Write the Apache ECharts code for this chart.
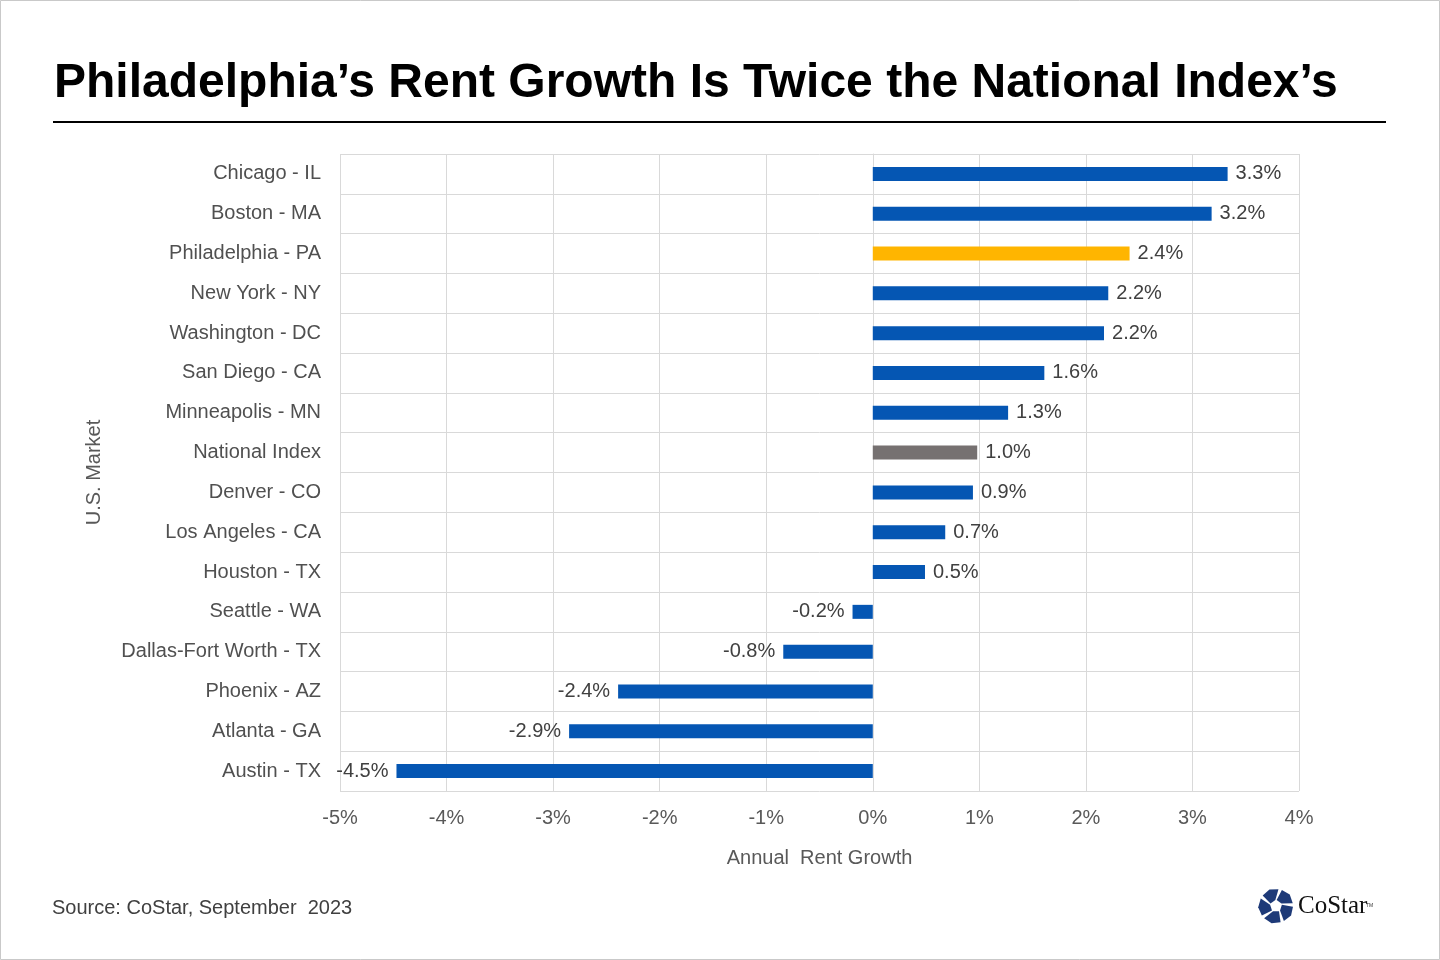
<!DOCTYPE html>
<html>
<head>
<meta charset="utf-8">
<title>Philadelphia Rent Growth</title>
<script src="https://cdn.jsdelivr.net/npm/echarts@6/dist/echarts.min.js"></script>
<style>
  html, body { margin: 0; padding: 0; background: #fff; }
  #chart { width: 1440px; height: 960px; }
</style>
</head>
<body>
<div id="chart"></div>
<script>
// markets, top to bottom
var markets = [
  'Chicago - IL', 'Boston - MA', 'Philadelphia - PA', 'New York - NY',
  'Washington - DC', 'San Diego - CA', 'Minneapolis - MN', 'National Index',
  'Denver - CO', 'Los Angeles - CA', 'Houston - TX', 'Seattle - WA',
  'Dallas-Fort Worth - TX', 'Phoenix - AZ', 'Atlanta - GA', 'Austin - TX'
];
// annual rent growth, percent
var growth = [3.33, 3.18, 2.41, 2.21, 2.17, 1.61, 1.27, 0.98, 0.94, 0.68, 0.49, -0.19, -0.84, -2.39, -2.85, -4.47];
var xTicks = { min: -5, max: 4, step: 1 };

var BLUE = '#0556B3';
var GOLD = '#FFB500';
var GREY = '#767171';
var FONT = '"Liberation Sans", Arial, sans-serif';

var chartDom = document.getElementById('chart');
var myChart = echarts.init(chartDom);

var barData = growth.map(function (v, i) {
  var color = BLUE;
  if (markets[i] === 'Philadelphia - PA') color = GOLD;
  if (markets[i] === 'National Index') color = GREY;
  return {
    value: v,
    itemStyle: { color: color },
    label: { position: v < 0 ? 'left' : 'right' }
  };
});

// little CoStar mark: five pieces around a centre
function logoPieces(cx, cy) {
  var out = [];
  var rO = 17, rI = 6;
  for (var k = 0; k < 5; k++) {
    var a0 = (-90 + k * 72 + 6) * Math.PI / 180;
    var a1 = (-90 + (k + 1) * 72 - 6) * Math.PI / 180;
    var am = (a0 + a1) / 2;
    var pts = [
      [cx + rI * Math.cos(a0), cy + rI * Math.sin(a0)],
      [cx + rO * Math.cos(a0 + 0.25), cy + rO * Math.sin(a0 + 0.25)],
      [cx + rO * 1.05 * Math.cos(am + 0.25), cy + rO * 1.05 * Math.sin(am + 0.25)],
      [cx + rO * Math.cos(a1 + 0.25), cy + rO * Math.sin(a1 + 0.25)],
      [cx + rI * Math.cos(a1), cy + rI * Math.sin(a1)]
    ];
    out.push({
      type: 'polygon',
      shape: { points: pts },
      style: { fill: '#1E3A78' }
    });
  }
  return out;
}

var option = {
  backgroundColor: '#ffffff',
  animation: false,
  textStyle: { fontFamily: FONT },
  title: {
    text: 'Philadelphia\u2019s Rent Growth Is Twice the National Index\u2019s',
    left: 49,
    top: 55,
    textStyle: {
      fontFamily: FONT,
      fontSize: 48,
      fontWeight: 'bold',
      color: '#000'
    }
  },
  grid: {
    left: 340,
    right: 141,
    top: 154,
    bottom: 169,
    containLabel: false
  },
  xAxis: {
    type: 'value',
    min: xTicks.min,
    max: xTicks.max,
    interval: xTicks.step,
    name: 'Annual  Rent Growth',
    nameLocation: 'middle',
    nameGap: 57,
    nameTextStyle: { fontSize: 20, color: '#595959', fontFamily: FONT },
    axisLine: { show: false },
    axisTick: { show: false },
    axisLabel: {
      fontSize: 20,
      color: '#595959',
      margin: 17,
      formatter: function (v) { return v + '%'; }
    },
    splitLine: { show: true, lineStyle: { color: '#D9D9D9', width: 1 } }
  },
  yAxis: {
    type: 'category',
    data: markets,
    inverse: true,
    name: 'U.S. Market',
    nameLocation: 'middle',
    nameGap: 236,
    nameRotate: 90,
    nameTextStyle: { fontSize: 20, color: '#595959', fontFamily: FONT },
    axisLine: { show: true, lineStyle: { color: '#D9D9D9' } },
    axisTick: { show: false },
    axisLabel: { fontSize: 20, color: '#505050', margin: 19 },
    splitLine: { show: true, interval: 0, lineStyle: { color: '#D9D9D9', width: 1 } }
  },
  series: [
    {
      name: 'Annual Rent Growth',
      type: 'bar',
      barWidth: 14,
      data: barData,
      label: {
        show: true,
        fontSize: 20,
        color: '#404040',
        distance: 8,
        formatter: function (p) { return p.value.toFixed(1) + '%'; }
      }
    }
  ],
  graphic: [
    {
      type: 'rect',
      shape: { x: 0.5, y: 0.5, width: 1439, height: 959 },
      style: { fill: 'none', stroke: '#C9C9C9', lineWidth: 1 },
      silent: true
    },
    {
      type: 'line',
      shape: { x1: 53, y1: 122, x2: 1386, y2: 122 },
      style: { stroke: '#000', lineWidth: 2 }
    },
    {
      type: 'text',
      left: 52,
      top: 898,
      style: {
        text: 'Source: CoStar, September  2023',
        fontSize: 20,
        fill: '#404040',
        fontFamily: FONT
      }
    },
    {
      type: 'group',
      children: logoPieces(1276, 906)
    },
    {
      type: 'text',
      left: 1298,
      top: 894,
      style: {
        text: 'CoStar',
        fontSize: 25,
        fill: '#111',
        fontFamily: '"Liberation Serif", "DejaVu Serif", serif'
      }
    },
    {
      type: 'text',
      left: 1366,
      top: 903,
      style: {
        text: 'TM',
        fontSize: 5,
        fill: '#333',
        fontFamily: FONT
      }
    }
  ]
};

option && myChart.setOption(option);

window.addEventListener('resize', function () {
  myChart.resize();
});
</script>
</body>
</html>
